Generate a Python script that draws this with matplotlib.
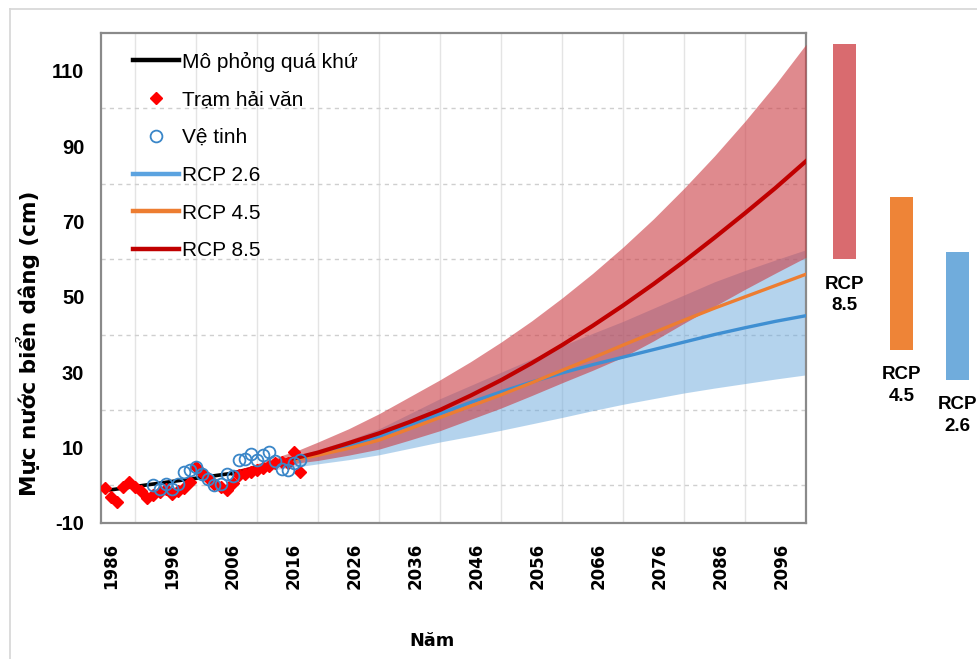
import matplotlib
matplotlib.use("Agg")
import matplotlib.pyplot as plt
from matplotlib.lines import Line2D

plt.rcParams["axes.unicode_minus"] = False

# observed sea level, cm
gauge_years = list(range(1985, 2018))
gauge_vals = [-0.8, -3.2, -4.3, -0.5, 0.8, -0.4, -1.5, -3.4, -2.6, -1.8, -0.9,
              -2.2, -1.6, -0.8, 1.0, 4.8, 3.2, 2.0, 0.4, -0.5, -1.2, 0.5,
              2.8, 3.0, 3.5, 4.0, 4.6, 5.2, 5.8, 6.3, 6.0, 8.8, 3.6]
sat_years = list(range(1993, 2018))
sat_vals = [0.0, -0.9, 0.4, -0.9, 0.4, 3.5, 4.0, 4.9, 3.1, 1.8, 0.0, 0.4, 3.1,
            2.5, 6.6, 7.1, 8.4, 6.6, 8.0, 8.9, 6.5, 4.4, 4.0, 6.0, 6.6]

# simulated past
hist_years = [1986, 1996, 2006]
hist_vals = [-1.2, 1.0, 3.2]

# projections
proj_years = [2006, 2017, 2020, 2025, 2030, 2035, 2040, 2045, 2050, 2055, 2060,
              2065, 2070, 2075, 2080, 2085, 2090, 2095, 2100]
rcp26_mid = [3.2, 7.0, 8.4, 10.5, 13.0, 16.0, 19.0, 22.0, 24.8, 27.4, 29.8,
             32.0, 34.0, 36.0, 38.0, 40.0, 41.8, 43.5, 45.0]
rcp26_lo = [2.8, 5.0, 5.7, 6.8, 8.1, 9.8, 11.5, 13.0, 14.6, 16.3, 18.0,
            19.8, 21.5, 23.0, 24.5, 25.8, 27.0, 28.2, 29.3]
rcp26_hi = [3.6, 8.0, 9.5, 12.0, 15.0, 19.0, 23.0, 26.5, 30.0, 33.5, 37.0,
            40.3, 43.5, 47.0, 50.5, 54.0, 57.0, 59.8, 62.5]
rcp45_mid = [3.2, 7.0, 8.0, 9.8, 12.0, 15.0, 18.0, 21.0, 24.0, 27.2, 30.5,
             33.8, 37.2, 40.5, 43.8, 47.0, 50.0, 53.0, 56.0]
rcp85_mid = [3.2, 7.5, 8.7, 11.2, 13.8, 16.8, 20.0, 23.8, 27.9, 32.4, 37.2,
             42.3, 47.7, 53.4, 59.4, 65.7, 72.2, 78.9, 86.0]
rcp85_lo = [2.8, 6.0, 6.6, 8.0, 9.6, 12.0, 14.5, 17.5, 20.5, 23.8, 27.2,
            30.5, 34.0, 38.3, 43.0, 47.5, 52.0, 56.3, 60.5]
rcp85_hi = [3.6, 9.5, 11.5, 15.0, 19.0, 23.5, 28.0, 32.8, 38.0, 43.6, 49.7,
            56.2, 63.2, 70.7, 78.8, 87.4, 96.6, 106.4, 117.0]

# 2100 ranges shown as bars
bar_names = ["RCP\n8.5", "RCP\n4.5", "RCP\n2.6"]
bar_lo = [60.0, 36.0, 28.0]
bar_hi = [117.0, 76.5, 62.0]
bar_colors = ["#d96b6f", "#ee8437", "#70acdc"]

year_ticks = list(range(1986, 2097, 10))
value_ticks = list(range(-10, 111, 20))

SANS = "Liberation Sans"
WIDE = "DejaVu Sans"

fig = plt.figure(figsize=(9.77, 6.59), dpi=100)
ax = fig.add_axes([101 / 977, 1 - 523 / 659, 705 / 977, 490 / 659])

ax.fill_between(proj_years, rcp26_lo, rcp26_hi, color="#6ba9dd", alpha=0.5, lw=0, zorder=2)
ax.fill_between(proj_years, rcp85_lo, rcp85_hi, color="#cb3c43", alpha=0.6, lw=0, zorder=3)

ax.plot(proj_years, rcp26_mid, color="#3f8fd2", lw=2.4, zorder=4)
ax.plot(proj_years, rcp45_mid, color="#ed7d31", lw=2.4, zorder=5)
ax.plot(proj_years, rcp85_mid, color="#c00000", lw=3.0, zorder=6)
ax.plot(hist_years, hist_vals, color="black", lw=2.6, zorder=6)
ax.plot(gauge_years, gauge_vals, ls="none", marker="D", ms=6.5, color="#ff0000",
        mec="#ff0000", zorder=7)
ax.plot(sat_years, sat_vals, ls="none", marker="o", ms=8.5, mfc="none",
        mec="#3a86c8", mew=1.3, zorder=8)

ax.set_xlim(1984.4, 2100)
ax.set_ylim(-10, 120)
ax.set_xticks(year_ticks)
ax.set_xticks(list(range(1990, 2100, 10)), minor=True)
ax.set_yticks(value_ticks)
ax.set_yticks(list(range(-10, 120, 10)), minor=True)
ax.grid(False)
ax.grid(True, which="minor", axis="x", color="#e4e4e4", lw=1.0, zorder=0)
ax.grid(True, which="minor", axis="y", color="#cfcfcf", lw=1.0, ls=(0, (3, 3)), zorder=0)
ax.tick_params(which="both", length=0)
ax.tick_params(axis="y", pad=12)
ax.tick_params(axis="x", pad=14)
for lab in ax.get_yticklabels():
    lab.set_fontfamily(SANS)
    lab.set_fontweight("bold")
    lab.set_fontsize(14.5)
for lab in ax.get_xticklabels():
    lab.set_fontfamily(WIDE)
    lab.set_fontweight("bold")
    lab.set_fontsize(12)
    lab.set_rotation(90)

for sp in ax.spines.values():
    sp.set_color("#8a8a8a")
    sp.set_linewidth(1.6)

ax.set_ylabel("Mực nước biển dâng (cm)", family=WIDE, fontweight="bold", fontsize=15.5)
ax.yaxis.set_label_coords(-0.087, 0.367)
ax.set_xlabel("Năm", family=WIDE, fontweight="bold", fontsize=12.7)
ax.xaxis.set_label_coords(0.47, -0.222)

handles = [
    Line2D([], [], color="black", lw=3.2),
    Line2D([], [], ls="none", marker="D", ms=6.5, color="#ff0000"),
    Line2D([], [], ls="none", marker="o", ms=8.5, mfc="none", mec="#3a86c8", mew=1.3),
    Line2D([], [], color="#5ba3e0", lw=3.2),
    Line2D([], [], color="#ed7d31", lw=3.2),
    Line2D([], [], color="#c00000", lw=3.2),
]
labels = ["Mô phỏng quá khứ", "Trạm hải văn", "Vệ tinh", "RCP 2.6", "RCP 4.5", "RCP 8.5"]
ax.legend(handles, labels, loc="upper left", bbox_to_anchor=(0.045, 0.962),
          frameon=False, borderpad=0, borderaxespad=0, handlelength=2.2,
          handletextpad=0.15, labelspacing=0.9,
          prop={"family": SANS, "size": 15})

# range of each scenario at 2100
bx = fig.add_axes([820 / 977, 1 - 523 / 659, 157 / 977, 490 / 659])
bx.set_xlim(-0.44, 2.34)
bx.set_ylim(-10, 120)
bx.axis("off")
heights = [h - l for l, h in zip(bar_lo, bar_hi)]
bx.bar(range(3), heights, bottom=bar_lo, width=0.41, color=bar_colors)
for i, name in enumerate(bar_names):
    bx.annotate(name, (i, bar_lo[i]), xytext=(0, -12), textcoords="offset points",
                ha="center", va="top", family=["Liberation Sans Narrow", SANS],
                fontweight="bold", fontsize=13.5, linespacing=1.35)

# light frame round the whole figure
fig.add_artist(Line2D([10 / 977, 1], [1 - 9 / 659, 1 - 9 / 659], color="#d6d6d6", lw=1.2))
fig.add_artist(Line2D([10 / 977, 10 / 977], [0, 1 - 9 / 659], color="#d6d6d6", lw=1.2))

fig.savefig("out.png", dpi=100)
